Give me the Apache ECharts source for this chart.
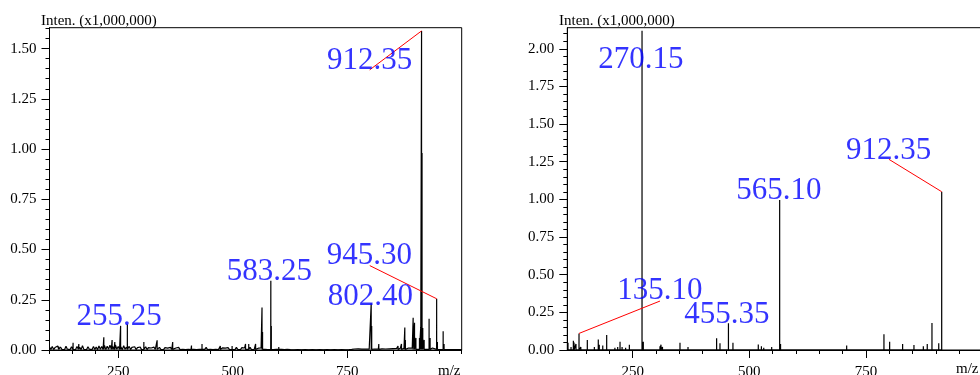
<!DOCTYPE html>
<html><head><meta charset="utf-8">
<script src="https://cdn.jsdelivr.net/npm/echarts@6/dist/echarts.min.js"></script>
<style>html,body{margin:0;padding:0;background:#fff}#c{width:980px;height:375px}</style>
</head><body><div id="c"></div>
<script>
// ---------- texts ----------
const yTitle = 'Inten. (x1,000,000)';
const xName = 'm/z';

// ---------- tick values ----------
const leftXMajor = [250, 500, 750];
const leftXMinor = [100,150,200,250,300,350,400,450,500,550,600,650,700,750,800,850,900,950,1000];
const rightXMajor = [250, 500, 750];
const rightXMinor = [150,200,250,300,350,400,450,500,550,600,650,700,750,800,850,900,950,1000];
const leftYMajor = [0, 0.25, 0.5, 0.75, 1.0, 1.25, 1.5];
const leftYMinor = [0,0.05,0.1,0.15,0.2,0.25,0.3,0.35,0.4,0.45,0.5,0.55,0.6,0.65,0.7,0.75,0.8,0.85,0.9,0.95,1.0,1.05,1.1,1.15,1.2,1.25,1.3,1.35,1.4,1.45,1.5,1.55,1.6];
const rightYMajor = [0, 0.25, 0.5, 0.75, 1.0, 1.25, 1.5, 1.75, 2.0];
const rightYMinor = [0,0.05,0.1,0.15,0.2,0.25,0.3,0.35,0.4,0.45,0.5,0.55,0.6,0.65,0.7,0.75,0.8,0.85,0.9,0.95,1.0,1.05,1.1,1.15,1.2,1.25,1.3,1.35,1.4,1.45,1.5,1.55,1.6,1.65,1.7,1.75,1.8,1.85,1.9,1.95,2.0,2.05,2.1];

// ---------- left spectrum: peaks [m/z, intensity] ----------
const leftPeaks = [
  [120,0.018],[151.5,0.036],[164,0.03],[218.6,0.063],[236.7,0.05],[242.6,0.04],
  [255.25,0.12],[270,0.128],[306,0.04],[335,0.048],[369,0.04],[410,0.022],[433,0.03],
  [473,0.02],[498.7,0.02],[528,0.03],[535,0.03],[550,0.03],[564,0.212],[565.2,0.09],
  [583.25,0.345],[584.3,0.12],[600.6,0.015],[619,0.01],[659,0.01],[700,0.008],[760,0.01],
  [802.4,0.232],[803.5,0.12],[819,0.03],[861,0.02],[868.5,0.03],[875.8,0.112],[877,0.05],
  [894,0.16],[897,0.135],[900,0.06],[907.8,0.06],[910.5,0.11],[912.35,1.588],[913.4,0.98],
  [915,0.11],[918,0.05],[928.8,0.155],[931,0.06],[945.3,0.255],[947,0.04],[959.5,0.093],
  [961.5,0.03],[970,0.01],[985,0.008]
];
// left spectrum: baseline noise profile [m/z, intensity]
const leftNoise = [
  [100,.014],[103,.003],[106,.018],[109,.002],[112,.012],[115,.004],[118,.020],[121,.002],[124,.015],[127,.003],
  [130,.011],[133,.002],[136,.019],[139,.004],[142,.013],[145,.002],[148,.016],[151,.003],[154,.012],[157,.002],
  [160,.017],[163,.004],[166,.014],[169,.002],[172,.021],[175,.003],[178,.012],[181,.002],[184,.016],[187,.004],
  [190,.013],[193,.002],[196,.018],[199,.003],[202,.015],[205,.002],[208,.020],[211,.004],[214,.017],[217,.003],
  [220,.023],[223,.002],[226,.019],[229,.004],[232,.024],[235,.003],[238,.018],[241,.002],[244,.025],[247,.004],
  [250,.017],[253,.003],[256,.015],[259,.002],[262,.021],[265,.004],[268,.014],[271,.003],[274,.018],[277,.002],
  [280,.013],[283,.004],[286,.016],[289,.002],[292,.012],[295,.003],[298,.015],[301,.002],[304,.011],[307,.003],
  [310,.016],[313,.002],[316,.012],[319,.003],[322,.010],[325,.002],[328,.014],[331,.003],[334,.011],[337,.002],
  [340,.013],[343,.003],[346,.010],[349,.002],[352,.012],[355,.003],[358,.009],[361,.002],[364,.013],[367,.003],
  [370,.011],[373,.002],[376,.010],[379,.003],[382,.013],[385,.002],[388,.009],[391,.003],[394,.012],[397,.002],
  [400,.010],[403,.003],[406,.012],[409,.002],[412,.009],[415,.003],[418,.011],[421,.002],[424,.010],[427,.003],
  [430,.012],[433,.002],[436,.009],[439,.003],[442,.013],[445,.002],[448,.010],[451,.003],[454,.011],[457,.002],
  [460,.009],[463,.003],[466,.012],[469,.002],[472,.010],[475,.003],[478,.011],[481,.002],[484,.009],[487,.003],
  [490,.012],[493,.002],[496,.010],[499,.003],[502,.011],[505,.002],[508,.013],[511,.003],[514,.009],[517,.002],
  [520,.012],[523,.003],[526,.010],[529,.002],[532,.011],[535,.003],[538,.013],[541,.002],[544,.010],[547,.003],
  [550,.012],[553,.002],[556,.009],[559,.003],[562,.011],[565,.002],[568,.012],[571,.003],[574,.010],[577,.002],
  [580,.011],[583,.003],[586,.009],[589,.002],[592,.011],[595,.003],[598,.008],[601,.002],[604,.009],[607,.003],
  [610,.007],[613,.002],[616,.008],[619,.002],[622,.006],[626,.002],[630,.005],[634,.001],[638,.006],[642,.002],
  [646,.005],[650,.001],[654,.006],[658,.002],[662,.005],[666,.001],[670,.006],[674,.002],[678,.004],[682,.001],
  [686,.006],[690,.002],[694,.005],[698,.001],[702,.006],[706,.002],[710,.004],[714,.001],[718,.005],[722,.002],
  [726,.006],[730,.001],[734,.004],[738,.002],[742,.005],[746,.001],[750,.006],[754,.002],[758,.004],[762,.001],
  [766,.005],[770,.002],[774,.006],[778,.001],[782,.004],[786,.002],[790,.005],[794,.001],[798,.004],[806,.002],
  [810,.005],[814,.001],[818,.004],[822,.002],[826,.006],[830,.001],[834,.005],[838,.002],[842,.006],[846,.002],
  [850,.007],[854,.002],[858,.008],[862,.003],[866,.009],[870,.002],[874,.008],[880,.003],[884,.010],[888,.003],
  [892,.009],[904,.003],[920,.009],[924,.003],[936,.010],[940,.003],[950,.009],[954,.002],[964,.008],[968,.002],
  [972,.006],[976,.002],[980,.007],[984,.002],[988,.006],[992,.002],[996,.006],[1000,.002]
];

// ---------- right spectrum: peaks [m/z, intensity] ----------
const rightPeaks = [
  [111.5,0.048],[118,0.02],[123,0.062],[124.4,0.05],[128.6,0.04],[135.1,0.11],[139,0.02],
  [146,0.012],[152.9,0.066],[160,0.012],[168,0.02],[176.4,0.07],[178.5,0.035],[186,0.03],
  [194.4,0.1],[200,0.012],[212,0.015],[218,0.02],[223,0.055],[227.4,0.02],[235,0.015],
  [243,0.035],[249,0.012],[258,0.01],[270.15,2.12],[272.9,0.055],[290,0.01],[308.6,0.025],
  [310.8,0.035],[314,0.02],[324,0.008],[351.5,0.048],[368.7,0.02],[399,0.01],[430,0.078],
  [437.2,0.045],[455.35,0.177],[465,0.048],[474,0.012],[519.3,0.036],[526,0.025],[531,0.015],
  [548,0.02],[565.1,0.996],[567,0.04],[580,0.01],[708.7,0.03],[758.6,0.01],[788.6,0.104],
  [800.8,0.055],[828.6,0.04],[852.9,0.033],[873,0.025],[881.4,0.04],[891.5,0.18],[906,0.045],
  [912.35,1.051]
];

// ---------- annotations: [text, anchor m/z, anchor intensity] ----------
const leftLabels = [
  ['912.35', 799, 1.394], ['945.30', 798.3, 0.423], ['802.40', 800.4, 0.219],
  ['583.25', 580.3, 0.34], ['255.25', 252, 0.116]
];
const rightLabels = [
  ['270.15', 267.9, 1.863], ['912.35', 798.7, 1.261], ['565.10', 563.2, 0.994],
  ['135.10', 308.6, 0.332], ['455.35', 452.2, 0.17]
];
// leader lines: [from m/z, from intensity, to m/z, to intensity]
const leftLeaders = [[799, 1.394, 912.35, 1.588], [799.3, 0.42, 945.3, 0.255]];
const rightLeaders = [[799.3, 1.266, 912.35, 1.051], [308.6, 0.325, 135.1, 0.11]];

// ---------- build ----------
function buildProfile(peaks, noise, base) {
  const pts = noise.map(p => [p[0], p[1]]);
  peaks.forEach(p => { pts.push([p[0] - 0.05, base], [p[0], p[1]], [p[0] + 0.05, base]); });
  pts.sort((a, b) => a[0] - b[0]);
  return pts;
}
const FONT = 'Liberation Serif';
const tickLbl = { color: '#000', fontFamily: FONT, fontSize: 15 };
const plainText = { color: '#000', fontFamily: FONT, fontSize: 15, fontWeight: 'normal' };

function xAxes(grid, min, max, major, minor) {
  return [
    { type: 'value', gridIndex: grid, min, max, position: 'bottom',
      axisLine: { show: true, onZero: false, lineStyle: { color: '#000', width: 1 } },
      axisTick: { show: true, length: 4, lineStyle: { color: '#000' }, customValues: minor },
      axisLabel: { show: false }, splitLine: { show: false } },
    { type: 'value', gridIndex: grid, min, max, position: 'bottom',
      axisLine: { show: false },
      axisTick: { show: true, length: 8, lineStyle: { color: '#000' }, customValues: major },
      axisLabel: { show: true, margin: 15, customValues: major, ...tickLbl },
      splitLine: { show: false } }
  ];
}
function yAxes(grid, min, max, major, minor) {
  return [
    { type: 'value', gridIndex: grid, min, max, position: 'left',
      axisLine: { show: true, onZero: false, lineStyle: { color: '#000', width: 1 } },
      axisTick: { show: true, length: 8, lineStyle: { color: '#000' }, customValues: major },
      axisLabel: { show: true, margin: 13, customValues: major, formatter: v => v.toFixed(2), ...tickLbl },
      splitLine: { show: false } },
    { type: 'value', gridIndex: grid, min, max, position: 'left',
      axisLine: { show: false },
      axisTick: { show: true, length: 4, lineStyle: { color: '#000' }, customValues: minor },
      axisLabel: { show: false }, splitLine: { show: false } }
  ];
}
function labelSeries(xi, yi, labels, leaders) {
  return {
    type: 'scatter', xAxisIndex: xi, yAxisIndex: yi, symbolSize: 0, silent: true, z: 5,
    data: labels.map(l => [l[1], l[2], l[0]]),
    label: { show: true, position: 'top', distance: 0, offset: [0, 6], formatter: p => p.data[2],
      color: '#0000ff', fontFamily: FONT, fontSize: 31 },
    markLine: { silent: true, symbol: ['none', 'none'], animation: false,
      lineStyle: { color: '#ff0000', width: 1, type: 'solid' }, label: { show: false },
      emphasis: { disabled: true },
      data: leaders.map(d => [{ coord: [d[0], d[1]] }, { coord: [d[2], d[3]] }]) }
  };
}

const chart = echarts.init(document.getElementById('c'), null, { renderer: 'canvas' });
chart.setOption({
  animation: false,
  backgroundColor: '#fff',
  title: [
    { text: yTitle, left: 36, top: 9, textStyle: plainText },
    { text: yTitle, left: 554, top: 9, textStyle: plainText },
    { text: xName, left: 433, top: 359, textStyle: plainText }
  ],
  graphic: [
    { type: 'text', x: 956, y: 362, z: 100, silent: true,
      style: { text: xName, fill: '#000', font: '15px "Liberation Serif"', verticalAlign: 'top', align: 'left' } }
  ],
  grid: [
    { left: 49.5, top: 27.7, width: 412.2, height: 322.3, show: true, borderColor: '#000', borderWidth: 1, containLabel: false, outerBoundsMode: 'none' },
    { left: 567.3, top: 27.7, width: 415.3, height: 322.3, show: true, borderColor: '#000', borderWidth: 1, containLabel: false, outerBoundsMode: 'none' }
  ],
  xAxis: [...xAxes(0, 100, 1000, leftXMajor, leftXMinor), ...xAxes(1, 110, 1000, rightXMajor, rightXMinor)],
  yAxis: [...yAxes(0, 0, 1.604, leftYMajor, leftYMinor), ...yAxes(1, 0, 2.14, rightYMajor, rightYMinor)],
  series: [
    { type: 'line', xAxisIndex: 0, yAxisIndex: 0, data: buildProfile(leftPeaks, leftNoise, 0.003),
      symbol: 'none', silent: true, lineStyle: { color: '#000', width: 1.2 }, clip: true },
    { type: 'line', xAxisIndex: 2, yAxisIndex: 2, data: buildProfile(rightPeaks, [], 0),
      symbol: 'none', silent: true, lineStyle: { color: '#000', width: 1.2 }, clip: true },
    labelSeries(0, 0, leftLabels, leftLeaders),
    labelSeries(2, 2, rightLabels, rightLeaders)
  ]
});
</script></body></html>
